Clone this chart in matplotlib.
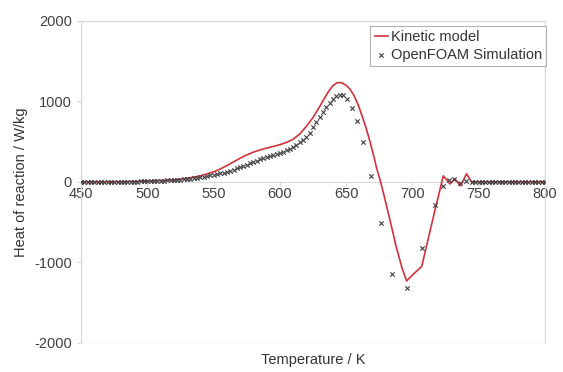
import matplotlib
matplotlib.use("Agg")
import matplotlib.pyplot as plt
from matplotlib.patches import Rectangle

plt.rcParams['font.family'] = ['Liberation Sans', 'DejaVu Sans']
plt.rcParams['axes.unicode_minus'] = False

# Kinetic model (red line)
model_T = [450, 480, 500, 520, 530, 540, 550, 555, 560, 565, 570, 575, 580, 585,
           590, 595, 600, 605, 610, 615, 620, 625, 630, 634, 637, 640, 643, 645,
           647, 650, 653, 656, 659, 662, 665, 668, 671, 673, 675.5, 678, 683, 688,
           692, 695.6, 701, 707, 712, 717, 720.7, 723.3, 728.3, 732, 736.3, 740.8,
           744.6, 760, 780, 800]
model_H = [0, 2, 10, 25, 45, 75, 125, 160, 203, 248, 294, 335, 370, 397,
           420, 440, 462, 490, 530, 595, 690, 800, 935, 1050, 1130, 1195, 1230, 1234,
           1228, 1200, 1150, 1070, 960, 820, 670, 500, 310, 170, 30, -130, -470, -820,
           -1060, -1230, -1140, -1050, -700, -350, -100, 75, -25, 37, -50, 100,
           0, 0, 0, 0]

# OpenFOAM simulation (crosses)
sim_T = [450, 452.5, 455, 457.5, 460, 462.5, 465, 467.5, 470, 472.5, 475, 477.5,
         480, 482.5, 485, 487.5, 490, 492.5, 495, 497.5, 500, 502.5, 505, 507.5,
         510, 512.5, 515, 517.5, 520, 522.5, 525, 527.5, 530, 532.5, 535, 537.5,
         540, 542.5, 545, 547.5, 550, 552.5, 555, 557.5, 560, 562.5, 565, 567.5,
         570, 572.5, 575, 577.5, 580, 582.5, 585, 587.5, 590, 592.5, 595, 597.5,
         600, 602.5, 605, 607.5, 610, 612.5, 615, 617.5, 620, 622.5, 625, 627.5,
         630, 632.5, 635, 637.5, 640, 642.5, 645, 647.3, 650.4, 654.1, 658.4,
         663, 668.7, 676.2, 684.8, 695.6, 707, 717, 723.3, 727.8, 731.5, 736,
         740.5, 745, 747.5, 750, 752.5, 755, 757.5, 760, 762.5, 765, 767.5, 770,
         772.5, 775, 777.5, 780, 782.5, 785, 787.5, 790, 792.5, 795, 797.5, 800]
sim_H = [0, 0, 0, 0, 0, 0, 0, 0, 0, 1, 1, 1,
         2, 2, 3, 3, 4, 5, 6, 7, 8, 9, 10, 12,
         14, 16, 18, 20, 22, 25, 28, 32, 36, 40, 45, 51,
         58, 65, 72, 80, 88, 97, 106, 116, 128, 140, 153, 168,
         185, 200, 215, 232, 250, 265, 280, 295, 308, 320, 333, 346,
         360, 375, 392, 412, 435, 462, 492, 525, 562, 610, 680, 745,
         810, 870, 930, 985, 1030, 1065, 1080, 1075, 1027, 923, 762,
         493, 74, -513, -1147, -1312, -820, -286, -55, 20, 35, -10,
         15, 0, 0, 0, 0, 0, 0, 0, 0, 0, 0, 0,
         0, 0, 0, 0, 0, 0, 0, 0, 0, 0, 0, 0]

x_ticks = [450, 500, 550, 600, 650, 700, 750, 800]
y_ticks = [-2000, -1000, 0, 1000, 2000]

fig = plt.figure(figsize=(5.63, 3.72), dpi=100)
ax = fig.add_axes([0.144, 0.078, 0.824, 0.866])

grey = '#d9d9d9'
ax.set_xlim(450, 800)
ax.set_ylim(-2000, 2000)

for s in ['top', 'right', 'left']:
    ax.spines[s].set_color(grey)
ax.spines['bottom'].set_position(('data', 0))
ax.spines['bottom'].set_color(grey)
ax.add_patch(Rectangle((0, 0), 1, 1, transform=ax.transAxes, fill=False,
                       edgecolor=grey, linewidth=1.0, zorder=0))

ax.plot(model_T, model_H, color='#d2323c', linewidth=1.2, label='Kinetic model', zorder=3)
ax.scatter(sim_T, sim_H, marker='x', s=10, color='#404040', linewidths=0.8,
           label='OpenFOAM Simulation', zorder=4)

ax.set_xticks(x_ticks)
ax.set_yticks(y_ticks)
ax.tick_params(axis='both', colors=grey, labelcolor='#404040', labelsize=10.5,
               length=3, direction='out')
ax.tick_params(axis='x', pad=1)

ax.set_xlabel('Temperature / K', fontsize=10.5, color='#333333')
ax.xaxis.set_label_coords(0.5, -0.03)
ax.set_ylabel('Heat of reaction / W/kg', fontsize=10.5, color='#333333')
ax.yaxis.set_label_coords(-0.115, 0.5)

leg = ax.legend(loc='upper right', bbox_to_anchor=(1.003, 0.985), fontsize=10.5,
                frameon=True, fancybox=False, handlelength=0.9, handletextpad=0.2,
                borderpad=0.3, labelspacing=0.25, borderaxespad=0.0,
                markerscale=1.0)
leg.get_frame().set_edgecolor('#a0a0a0')
leg.get_frame().set_linewidth(0.8)
for t in leg.get_texts():
    t.set_color('#333333')

fig.savefig('out.png', dpi=100)
